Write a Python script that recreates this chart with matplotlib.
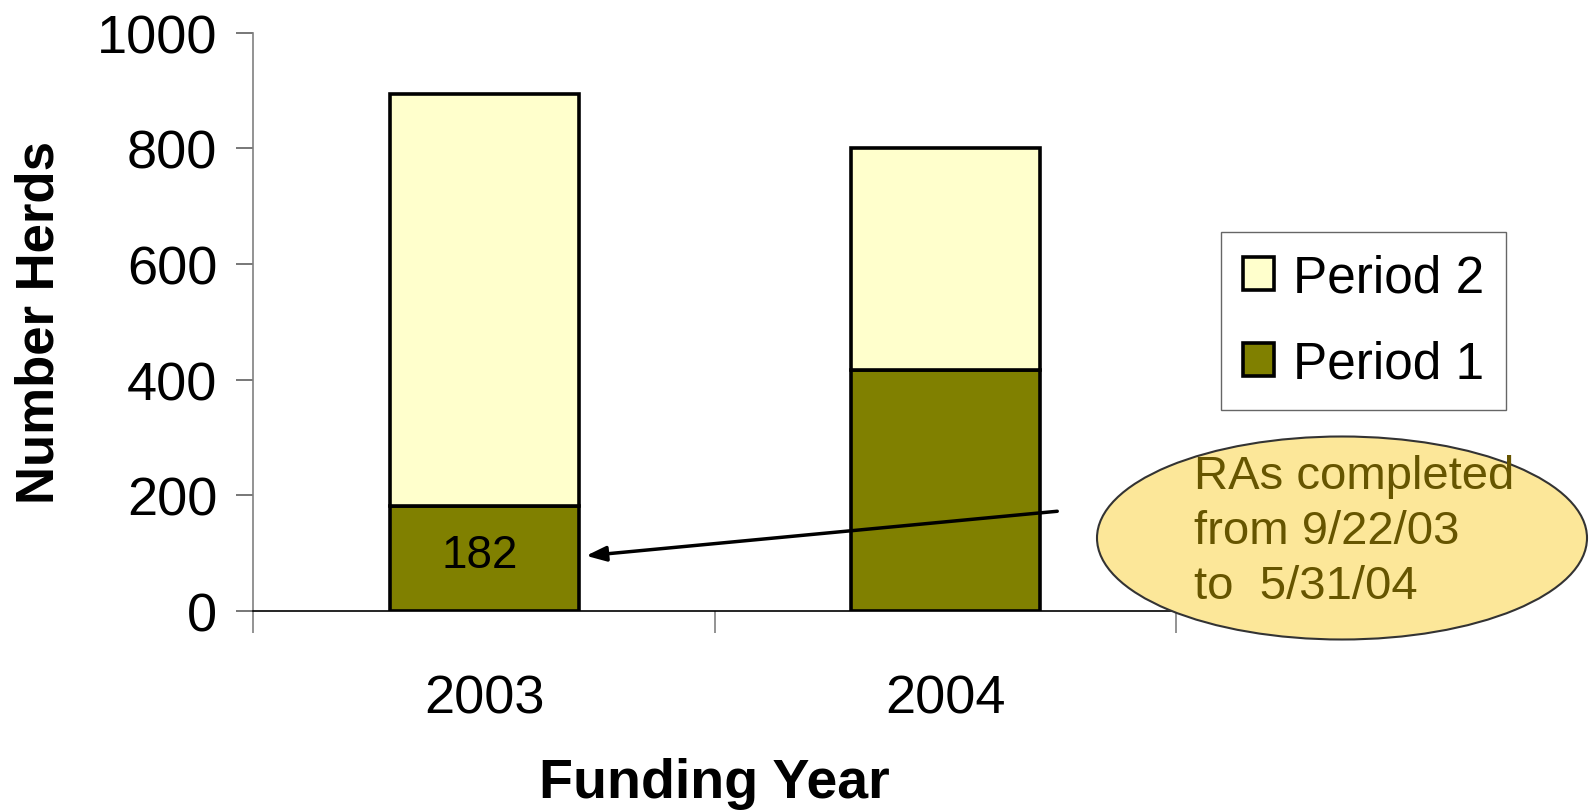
import matplotlib
matplotlib.use("Agg")
import matplotlib.pyplot as plt
from matplotlib.patches import Ellipse
import numpy as np

plt.rcParams['font.family'] = ['Liberation Sans', 'DejaVu Sans']

# data
years = ["2003", "2004"]
period1 = [182, 417]
period2 = [711, 383]
label_182 = "182"
note = "RAs completed\nfrom 9/22/03\nto  5/31/04"

col_p1 = "#808000"
col_p2 = "#FFFFCC"

fig = plt.figure(figsize=(15.9, 8.12), dpi=100)
ax = fig.add_axes([0.1594, 0.2463, 0.5802, 0.7124])

x = np.arange(len(years)) + 0.5
w = 0.41
b1 = ax.bar(x, period1, w, color=col_p1, edgecolor="black", linewidth=2.6, label="Period 1", zorder=3)
b2 = ax.bar(x, period2, w, bottom=period1, color=col_p2, edgecolor="black", linewidth=2.6,
            label="Period 2", zorder=3)

ax.text(x[0] - 0.01, period1[0] / 2 + 5, label_182, ha="center", va="center", fontsize=33, zorder=4)

ax.set_xlim(0, 2)
ax.set_ylim(0, 1000)
ax.set_yticks(np.arange(0, 1001, 200))
ax.tick_params(axis="y", labelsize=39, length=12, width=1.2, color="#606060", direction="out", pad=14)
ax.set_xticks([0, 1, 2])
ax.set_xticklabels([])
ax.tick_params(axis="x", which="major", length=16, width=1.2, color="#808080", direction="out")
ax.set_xticks(x, minor=True)
ax.set_xticklabels(years, minor=True)
ax.tick_params(axis="x", which="minor", length=0, labelsize=39, pad=45)

for s in ["top", "right"]:
    ax.spines[s].set_visible(False)
ax.spines["left"].set_color("#808080")
ax.spines["left"].set_linewidth(1.2)
ax.spines["bottom"].set_color("black")
ax.spines["bottom"].set_linewidth(1.2)

ax.set_ylabel("Number Herds", fontsize=38, fontweight="bold", labelpad=23)
ax.set_xlabel("Funding Year", fontsize=40, fontweight="bold", labelpad=24)

leg = fig.legend(handles=[b2, b1], labels=["Period 2", "Period 1"],
                 loc="upper left", bbox_to_anchor=(1221 / 1590, 1 - 233 / 812),
                 fontsize=37, frameon=True, fancybox=False, edgecolor="#404040",
                 handlelength=0.62, handleheight=0.62, handletextpad=0.36,
                 borderpad=0.42, labelspacing=0.72, borderaxespad=0)
leg.get_frame().set_linewidth(1.0)

# callout ellipse
ell = Ellipse((1342 / 1590, 1 - 539 / 812), 490 / 1590, 203 / 812, transform=fig.transFigure,
              facecolor="#FCE799", edgecolor="#333333", linewidth=1.5, zorder=5)
fig.patches.append(ell)
fig.text(1194 / 1590, 1 - 532 / 812, note, ha="left", va="center", fontsize=34,
         color="#665500", linespacing=1.32, zorder=6)

ax.annotate("", xy=(x[0] + w / 2 + 0.01, 95), xycoords="data",
            xytext=(1060 / 1590, 1 - 512 / 812), textcoords="figure fraction",
            arrowprops=dict(arrowstyle="-|>,head_length=1.2,head_width=0.45", color="black", lw=2.5),
            annotation_clip=False, zorder=6)

fig.savefig("out.png", dpi=100)
